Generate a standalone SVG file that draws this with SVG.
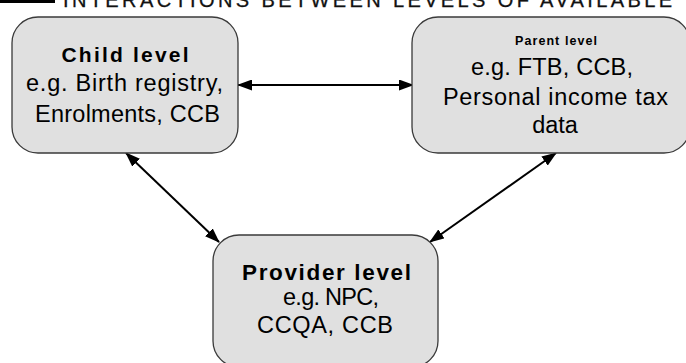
<svg xmlns="http://www.w3.org/2000/svg" width="686" height="363" viewBox="0 0 686 363">
<style>
.box{fill:#e0e0e0;stroke:#3a3a3a;stroke-width:1.3}
.t{font-family:"Liberation Sans",Arial,sans-serif;fill:#000;text-anchor:middle}
.b{font-weight:bold}
.c{stroke:#000;stroke-width:2;fill:none;marker-start:url(#ah);marker-end:url(#ah)}
</style>
<defs>
<marker id="ah" viewBox="0 0 15 11" refX="14" refY="5.5" markerWidth="15" markerHeight="11" markerUnits="userSpaceOnUse" orient="auto-start-reverse">
<path d="M0,0 L15,5.5 L0,11 Z" fill="#000"/>
</marker>
</defs>
<g id="title">
<rect x="0" y="0" width="55" height="3" fill="#000"/>
<text x="63" y="6.5" font-family="Liberation Sans,Arial,sans-serif" font-size="20" fill="#111" stroke="#111" stroke-width="0.3" textLength="609" lengthAdjust="spacing">INTERACTIONS BETWEEN LEVELS OF AVAILABLE</text>
</g>
<g id="connectors">
<line class="c" x1="238" y1="85" x2="413" y2="85"/>
<line class="c" x1="126" y1="153" x2="219" y2="242"/>
<line class="c" x1="556" y1="153" x2="430" y2="242"/>
</g>
<g id="child">
<rect class="box" x="12" y="17" width="226" height="136" rx="26" ry="26"/>
<text class="t b" x="125" y="62" font-size="21" textLength="127" lengthAdjust="spacing">Child level</text>
<text class="t" x="124.5" y="91" font-size="23.5" textLength="197" lengthAdjust="spacing">e.g. Birth registry,</text>
<text class="t" x="127.5" y="122" font-size="23.5" textLength="185" lengthAdjust="spacing">Enrolments, CCB</text>
</g>
<g id="parent">
<rect class="box" x="412" y="17" width="278" height="136" rx="26" ry="26"/>
<text class="t b" x="556" y="45" font-size="12.5" textLength="82" lengthAdjust="spacing">Parent level</text>
<text class="t" x="552" y="75" font-size="23.5" textLength="162" lengthAdjust="spacing">e.g. FTB, CCB,</text>
<text class="t" x="555.5" y="105" font-size="23.5" textLength="225" lengthAdjust="spacing">Personal income tax</text>
<text class="t" x="555" y="133" font-size="23.5">data</text>
</g>
<g id="provider">
<rect class="box" x="213" y="235" width="225" height="132" rx="26" ry="26"/>
<text class="t b" x="326.5" y="280" font-size="22.5" textLength="169" lengthAdjust="spacing">Provider level</text>
<text class="t" x="331" y="305" font-size="23.5" textLength="96" lengthAdjust="spacing">e.g. NPC,</text>
<text class="t" x="325" y="333" font-size="23.5" textLength="136" lengthAdjust="spacing">CCQA, CCB</text>
</g>
</svg>
